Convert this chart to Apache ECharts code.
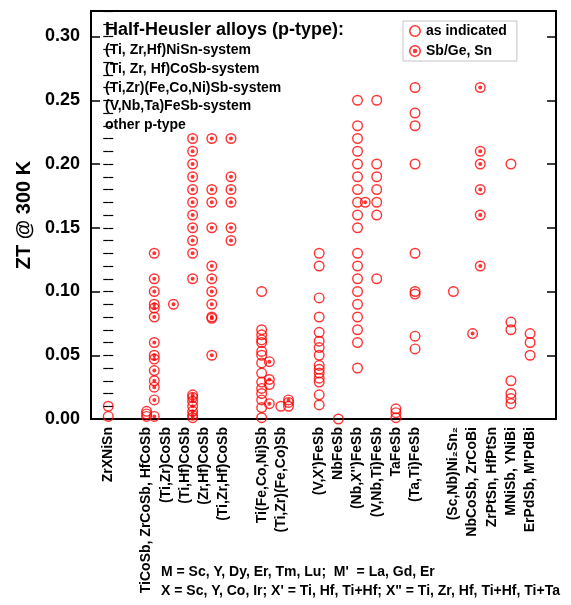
<!DOCTYPE html>
<html>
<head>
<meta charset="utf-8">
<script src="https://cdn.jsdelivr.net/npm/echarts@6/dist/echarts.min.js"></script>
<style>
  html, body { margin: 0; padding: 0; background: #ffffff; }
  #chart { width: 571px; height: 605px; }
</style>
</head>
<body>
<div id="chart"></div>
<script>
// Compound families along the x axis and where each one sits
const categoryLabels = [
  'ZrXNiSn', 'TiCoSb, ZrCoSb, HfCoSb', '(Ti,Zr)CoSb', '(Ti,Hf)CoSb', '(Zr,Hf)CoSb',
  '(Ti,Zr,Hf)CoSb', 'Ti(Fe,Co,Ni)Sb', '(Ti,Zr)(Fe,Co)Sb', "(V,X')FeSb", 'NbFeSb',
  "(Nb,X'')FeSb", '(V,Nb,Ti)FeSb', 'TaFeSb', '(Ta,Ti)FeSb', '(Sc,Nb)Ni\u2082Sn\u2082',
  'NbCoSb, ZrCoBi', 'ZrPtSn, HfPtSn', 'MNiSb, YNiBi', "ErPdSb, M'PdBi"
];
const categoryPos = [0, 2, 3, 4, 5, 6, 8, 9, 11, 12, 13, 14, 15, 16, 18, 19, 20, 21, 22];

// ZT @ 300 K, samples as indicated (open circles)
const openZrXNiSn   = [0.010, 0.002];
const openMCoSb     = [0.006, 0.004, 0.002];
const openTiFeCoNi  = [0.100, 0.070, 0.066, 0.062, 0.060, 0.053, 0.050, 0.044, 0.036, 0.029, 0.024, 0.020, 0.015, 0.009, 0.001];
const openTiFeCoNiB = [0.027];
const openTiZrFeCo  = [0.010];
const openTiZrFeCoB = [0.013, 0.010];
const openVXFeSb    = [0.130, 0.120, 0.095, 0.080, 0.068, 0.061, 0.056, 0.050, 0.042, 0.039, 0.036, 0.032, 0.029, 0.019, 0.011];
const openNbFeSb    = [0.000];
const openNbXFeSb   = [0.250, 0.230, 0.220, 0.210, 0.200, 0.190, 0.180, 0.170, 0.160, 0.150, 0.130, 0.120, 0.110, 0.100, 0.090, 0.080, 0.070, 0.060, 0.040];
const openVNbTiFeSb = [0.250, 0.200, 0.190, 0.180, 0.170, 0.160, 0.110];
const openTaFeSb    = [0.008, 0.005, 0.001];
const openTaTiFeSb  = [0.260, 0.240, 0.230, 0.200, 0.130, 0.100, 0.098, 0.065, 0.055];
const openScNbNiSn  = [0.100];
const openMNiSb     = [0.200, 0.076, 0.070, 0.030, 0.020, 0.016, 0.012];
const openErPdSb    = [0.067, 0.060, 0.050];

// ZT @ 300 K, Sb/Ge, Sn doped samples (dotted circles)
const dopedMCoSb     = [0.130, 0.110, 0.100, 0.090, 0.087, 0.080, 0.060, 0.050, 0.047, 0.038, 0.030, 0.025, 0.015, 0.002];
const dopedTiZrCoSb  = [0.090];
const dopedTiHfCoSb  = [0.220, 0.210, 0.200, 0.190, 0.180, 0.170, 0.160, 0.150, 0.140, 0.130, 0.110, 0.019, 0.017, 0.014, 0.010, 0.006, 0.003, 0.001];
const dopedZrHfCoSb  = [0.220, 0.180, 0.170, 0.150, 0.120, 0.110, 0.100, 0.090, 0.080, 0.079, 0.050];
const dopedTiZrHfCoSb = [0.220, 0.190, 0.180, 0.170, 0.150, 0.140];
const dopedTiFeCoNi  = [0.045, 0.031, 0.012];
const dopedTiZrFeCo  = [0.015];
const dopedNbXFeSb   = [0.170];
const dopedNbCoSb    = [0.067];
const dopedZrCoBi    = [0.260, 0.210, 0.200, 0.180, 0.160, 0.120];

const openGroups = [
  [0, openZrXNiSn], [2, openMCoSb], [8, openTiFeCoNi], [8.4, openTiFeCoNiB],
  [9, openTiZrFeCo], [9.4, openTiZrFeCoB], [11, openVXFeSb], [12, openNbFeSb],
  [13, openNbXFeSb], [14, openVNbTiFeSb], [15, openTaFeSb], [16, openTaTiFeSb],
  [18, openScNbNiSn], [21, openMNiSb], [22, openErPdSb]
];
const dopedGroups = [
  [2.4, dopedMCoSb], [3.4, dopedTiZrCoSb], [4.4, dopedTiHfCoSb], [5.4, dopedZrHfCoSb],
  [6.4, dopedTiZrHfCoSb], [8.4, dopedTiFeCoNi], [9.4, dopedTiZrFeCo], [13.4, dopedNbXFeSb],
  [19, dopedNbCoSb], [19.4, dopedZrCoBi]
];

const yTicksMajor = 0.05;
const yTicksMinor = 0.01;

function toPoints(groups) {
  const pts = [];
  groups.forEach(([x, vals]) => vals.forEach(v => pts.push([x, v])));
  return pts;
}

const RED = '#ff0000';
const FONT = '"Liberation Sans", Arial, sans-serif';
const ringPath = 'path://M0,-5.5A5.5,5.5,0,1,1,0,5.5A5.5,5.5,0,1,1,0,-5.5Z' +
                 'M0,-4.1A4.1,4.1,0,1,0,0,4.1A4.1,4.1,0,1,0,0,-4.1Z';
const dotRingPath = ringPath + 'M0,-2A2,2,0,1,1,0,2A2,2,0,1,1,0,-2Z';

const yRange = { min: 0, max: 0.32 };

const chart = echarts.init(document.getElementById('chart'), null, { renderer: 'canvas' });
chart.setOption({
  backgroundColor: '#ffffff',
  animation: false,
  textStyle: { fontFamily: FONT },
  title: [
    {
      text: 'Half-Heusler alloys (p-type):',
      subtext: '(Ti, Zr,Hf)NiSn-system\n(Ti, Zr, Hf)CoSb-system\n(Ti,Zr)(Fe,Co,Ni)Sb-system\n(V,Nb,Ta)FeSb-system\nother p-type',
      left: 100, top: 15, itemGap: 1,
      textStyle: { fontFamily: FONT, fontSize: 18, fontWeight: 'bold', color: '#000', lineHeight: 20 },
      subtextStyle: { fontFamily: FONT, fontSize: 14, fontWeight: 'bold', color: '#000', lineHeight: 18.7 }
    },
    {
      text: "M = Sc, Y, Dy, Er, Tm, Lu;  M'  = La, Gd, Er\nX = Sc, Y, Co, Ir; X' = Ti, Hf, Ti+Hf; X\" = Ti, Zr, Hf, Ti+Hf, Ti+Ta",
      left: 156, top: 558,
      textStyle: { fontFamily: FONT, fontSize: 14, fontWeight: 'bold', color: '#000', lineHeight: 19 }
    }
  ],
  legend: {
    orient: 'vertical', left: 403, top: 21,
    itemWidth: 12, itemHeight: 12, itemGap: 6,
    padding: [3, 10, 3, 6],
    borderColor: '#c4c4c4', borderWidth: 1, backgroundColor: '#ffffff',
    textStyle: { fontFamily: FONT, fontSize: 14, fontWeight: 'bold', color: '#000' },
    data: ['as indicated', 'Sb/Ge, Sn']
  },
  grid: { left: 91, right: 15, top: 11, bottom: 186 },
  xAxis: [
    {
      type: 'value', min: -0.9, max: 23.35, position: 'bottom',
      splitLine: { show: false },
      axisLine: { show: true, onZero: false, lineStyle: { color: '#000', width: 2 } },
      axisTick: { show: false },
      axisLabel: {
        customValues: categoryPos,
        rotate: 90, margin: 8, padding: [6, 0, 0, 0],
        fontFamily: FONT, fontSize: 14, fontWeight: 'bold', color: '#000',
        formatter: v => {
          const i = categoryPos.indexOf(v);
          return i >= 0 ? categoryLabels[i] : '';
        }
      }
    },
    {
      type: 'value', min: -0.9, max: 23.35, position: 'top',
      splitLine: { show: false },
      axisLine: { show: true, onZero: false, lineStyle: { color: '#000', width: 2 } },
      axisTick: { show: false }, axisLabel: { show: false }
    }
  ],
  yAxis: [
    {
      type: 'value', ...yRange, interval: yTicksMajor, position: 'left',
      name: 'ZT @ 300 K', nameLocation: 'middle', nameGap: 53,
      nameTextStyle: { fontFamily: FONT, fontSize: 20, fontWeight: 'bold', color: '#000' },
      splitLine: { show: false },
      axisLine: { show: true, onZero: false, lineStyle: { color: '#000', width: 2 } },
      axisTick: { show: true, inside: true, length: 9, lineStyle: { color: '#000', width: 1.5 } },
      axisLabel: {
        margin: 11, showMaxLabel: false,
        fontFamily: FONT, fontSize: 18, fontWeight: 'bold', color: '#000',
        formatter: v => v.toFixed(2)
      }
    },
    {
      type: 'value', ...yRange, interval: yTicksMinor, position: 'left',
      splitLine: { show: false }, axisLine: { show: false }, axisLabel: { show: false },
      axisTick: { show: true, inside: true, length: 5, lineStyle: { color: '#000', width: 1.2 } }
    },
    {
      type: 'value', ...yRange, interval: yTicksMajor, position: 'right',
      splitLine: { show: false },
      axisLine: { show: true, onZero: false, lineStyle: { color: '#000', width: 2 } },
      axisTick: { show: true, inside: true, length: 9, lineStyle: { color: '#000', width: 1.5 } },
      axisLabel: { show: false }
    },
    {
      type: 'value', ...yRange, interval: yTicksMinor, position: 'right',
      splitLine: { show: false }, axisLine: { show: false }, axisLabel: { show: false },
      axisTick: { show: true, inside: true, length: 5, lineStyle: { color: '#000', width: 1.2 } }
    }
  ],
  series: [
    {
      name: 'as indicated', type: 'scatter',
      symbol: ringPath, symbolSize: 11,
      itemStyle: { color: RED },
      data: toPoints(openGroups)
    },
    {
      name: 'Sb/Ge, Sn', type: 'scatter',
      symbol: dotRingPath, symbolSize: 11,
      itemStyle: { color: RED },
      data: toPoints(dopedGroups)
    }
  ]
});
</script>
</body>
</html>
